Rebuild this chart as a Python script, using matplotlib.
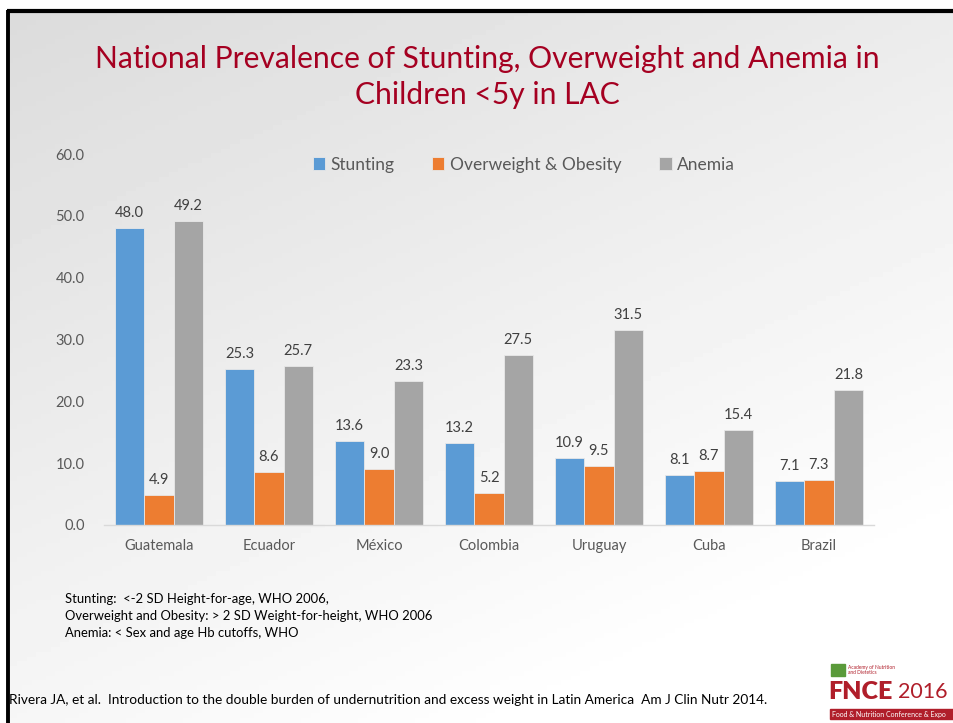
import numpy as np
import matplotlib
matplotlib.use('Agg')
import matplotlib.pyplot as plt
from matplotlib.patches import Rectangle

# Chart data
countries = ['Guatemala', 'Ecuador', 'México', 'Colombia', 'Uruguay', 'Cuba', 'Brazil']
stunting = [48.0, 25.3, 13.6, 13.2, 10.9, 8.1, 7.1]
overweight = [4.9, 8.6, 9.0, 5.2, 9.5, 8.7, 7.3]
anemia = [49.2, 25.7, 23.3, 27.5, 31.5, 15.4, 21.8]
seriesNames = ['Stunting', 'Overweight & Obesity', 'Anemia']
seriesColors = ['#5B9BD5', '#ED7D31', '#A5A5A5']
yTicks = [0, 10, 20, 30, 40, 50, 60]

titleText = 'National Prevalence of Stunting, Overweight and Anemia in\nChildren <5y in LAC'
footnotes = ['Stunting:  <-2 SD Height-for-age, WHO 2006,',
             'Overweight and Obesity: > 2 SD Weight-for-height, WHO 2006',
             'Anemia: < Sex and age Hb cutoffs, WHO']
citation = ('Rivera JA, et al.  Introduction to the double burden of undernutrition '
            'and excess weight in Latin America  Am J Clin Nutr 2014.')

plt.rcParams['font.family'] = ['Lato', 'DejaVu Sans']

W, H = 954, 723
fig = plt.figure(figsize=(W / 100, H / 100), dpi=100)
fig.patch.set_facecolor('white')

# Slide background: grey to white gradient inside a black frame
bg = fig.add_axes([0, 0, 1, 1])
bg.set_xlim(0, W)
bg.set_ylim(H, 0)
bg.axis('off')
xx, yy = np.meshgrid(np.linspace(0, 1, 200), np.linspace(0, 1, 150))
t = np.clip(0.45 * xx + 0.75 * yy, 0, 1)
grad = 0.86 + 0.14 * t
bg.imshow(grad, cmap='gray', vmin=0, vmax=1, extent=[8, W, H, 11], aspect='auto', zorder=0)
bg.plot([8, 8], [10, H], color='black', lw=2.8, solid_capstyle='butt', zorder=2)
bg.plot([7, W], [10.5, 10.5], color='black', lw=3.0, solid_capstyle='butt', zorder=2)

# Title
fig.text(0.511, 1 - 77 / H, titleText, ha='center', va='center', fontsize=21.6,
         color='#A50021', linespacing=1.32)

# Bar chart
ax = fig.add_axes([104 / W, 1 - 525 / H, 770 / W, 371 / H])
ax.set_facecolor('none')
x = np.arange(len(countries))
barW = 0.8 / 3
allSeries = [stunting, overweight, anemia]
for i, vals in enumerate(allSeries):
    pos = x + (i - 1) * barW
    bars = ax.bar(pos, vals, width=barW, color=seriesColors[i], edgecolor='#e8e8e8',
                  linewidth=0.6, label=seriesNames[i])
    for b, v in zip(bars, vals):
        ax.text(b.get_x() + b.get_width() / 2, v + 1.3, f'{v:.1f}', ha='center',
                va='bottom', fontsize=10.5, color='#404040')

ax.set_xlim(-0.5, len(countries) - 0.5)
ax.set_ylim(0, 60)
ax.set_yticks(yTicks)
ax.set_yticklabels([f'{v:.1f}' for v in yTicks])
ax.set_xticks(x)
ax.set_xticklabels(countries)
ax.tick_params(axis='both', length=0, labelsize=10.5, labelcolor='#595959')
ax.tick_params(axis='y', pad=14)
ax.tick_params(axis='x', pad=10)
for s in ['top', 'right', 'left']:
    ax.spines[s].set_visible(False)
ax.spines['bottom'].set_color('#d9d9d9')
ax.spines['bottom'].set_linewidth(1.0)

leg = ax.legend(loc='upper center', bbox_to_anchor=(0.545, 1.035), ncol=3, frameon=False,
                fontsize=12.5, handlelength=0.7, handleheight=0.7, handletextpad=0.3,
                columnspacing=2.2)
for txt in leg.get_texts():
    txt.set_color('#595959')

# Footnotes
for k, line in enumerate(footnotes):
    fig.text(65 / W, 1 - (599 + 17 * k) / H, line, ha='left', va='center',
             fontsize=9.4, color='black')
fig.text(9 / W, 1 - 700 / H, citation, ha='left', va='center', fontsize=9.8, color='black')

# Conference logo (approximation)
bg.text(828, 692, 'FNCE', ha='left', va='center', fontsize=18, fontweight='heavy',
        color='#B01E2A', zorder=3)
bg.text(898, 692, '2016', ha='left', va='center', fontsize=15.5, color='#B01E2A', zorder=3)
bg.add_patch(Rectangle((830, 709), 124, 10, color='#B01E2A', zorder=3))
bg.text(832, 714, 'Food & Nutrition Conference & Expo', ha='left', va='center',
        fontsize=5, color='white', zorder=4)
bg.text(848, 670, 'Academy of Nutrition\nand Dietetics', ha='left', va='center',
        fontsize=3.5, color='#B01E2A', zorder=3)
bg.add_patch(Rectangle((831, 664), 14, 12, color='#5A9A3A', zorder=3))

fig.savefig('out.png', dpi=100)
